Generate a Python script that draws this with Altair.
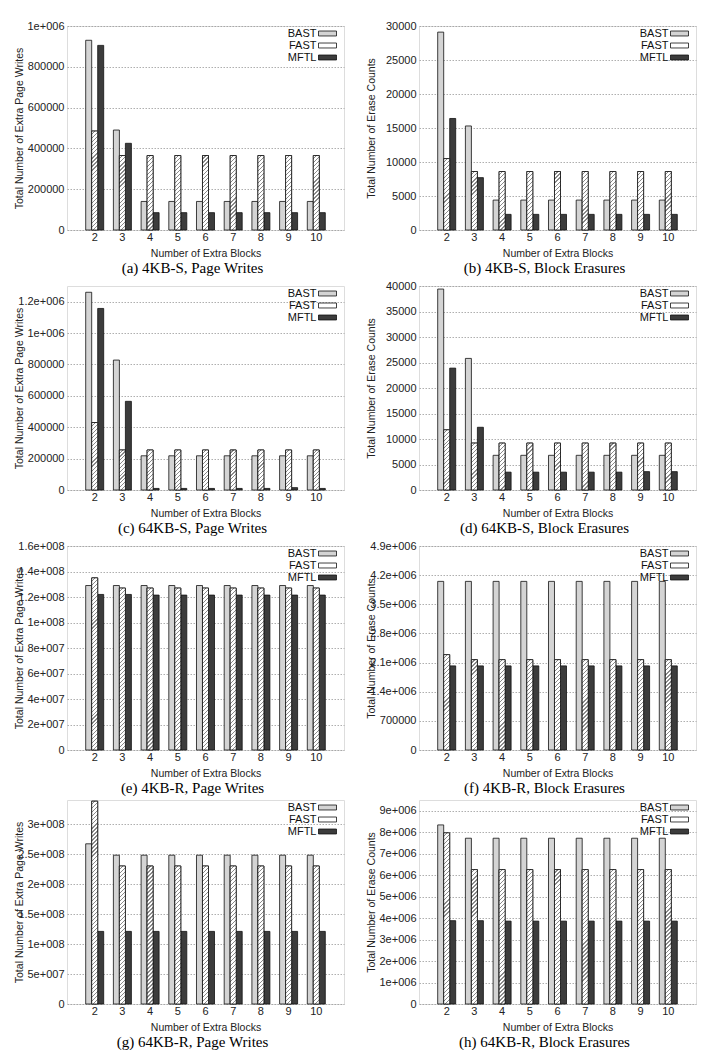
import altair as alt
import pandas as pd

blocks = [2, 3, 4, 5, 6, 7, 8, 9, 10]
series_names = ["BAST", "FAST", "MFTL"]
series_colors = ["#d4d4d4", "#ffffff", "#3c3c3c"]

# (a) 4KB-S, Page Writes
a_bast = [930000, 490000, 140000, 140000, 140000, 140000, 140000, 140000, 140000]
a_fast = [485000, 365000, 365000, 365000, 365000, 365000, 365000, 365000, 365000]
a_mftl = [905000, 425000, 85000, 85000, 85000, 85000, 85000, 85000, 85000]
a_ticks = [0, 200000, 400000, 600000, 800000, 1000000]
a_labels = ["0", "200000", "400000", "600000", "800000", "1e+006"]
a_ymax = 1000000

# (b) 4KB-S, Block Erasures
b_bast = [29100, 15300, 4400, 4400, 4400, 4400, 4400, 4400, 4400]
b_fast = [10500, 8600, 8600, 8600, 8600, 8600, 8600, 8600, 8600]
b_mftl = [16400, 7700, 2300, 2300, 2300, 2300, 2300, 2300, 2300]
b_ticks = [0, 5000, 10000, 15000, 20000, 25000, 30000]
b_labels = ["0", "5000", "10000", "15000", "20000", "25000", "30000"]
b_ymax = 30000

# (c) 64KB-S, Page Writes
c_bast = [1260000, 828000, 218000, 218000, 218000, 218000, 218000, 218000, 218000]
c_fast = [430000, 255000, 255000, 255000, 255000, 255000, 255000, 255000, 255000]
c_mftl = [1157000, 565000, 10000, 10000, 10000, 10000, 10000, 15000, 10000]
c_ticks = [0, 200000, 400000, 600000, 800000, 1000000, 1200000]
c_labels = ["0", "200000", "400000", "600000", "800000", "1e+006", "1.2e+006"]
c_ymax = 1300000

# (d) 64KB-S, Block Erasures
d_bast = [39400, 25800, 6800, 6800, 6800, 6800, 6800, 6800, 6800]
d_fast = [11800, 9200, 9200, 9200, 9200, 9200, 9200, 9200, 9200]
d_mftl = [23900, 12300, 3500, 3500, 3500, 3500, 3500, 3600, 3600]
d_ticks = [0, 5000, 10000, 15000, 20000, 25000, 30000, 35000, 40000]
d_labels = ["0", "5000", "10000", "15000", "20000", "25000", "30000", "35000", "40000"]
d_ymax = 40000

# (e) 4KB-R, Page Writes
e_bast = [129000000] * 9
e_fast = [135000000, 127000000, 127000000, 127000000, 127000000, 127000000, 127000000, 127000000, 127000000]
e_mftl = [122000000, 122000000, 121500000, 121500000, 121500000, 121500000, 121500000, 121500000, 121500000]
e_ticks = [0, 20000000, 40000000, 60000000, 80000000, 100000000, 120000000, 140000000, 160000000]
e_labels = ["0", "2e+007", "4e+007", "6e+007", "8e+007", "1e+008", "1.2e+008", "1.4e+008", "1.6e+008"]
e_ymax = 160000000

# (f) 4KB-R, Block Erasures
f_bast = [4050000] * 9
f_fast = [2290000, 2170000, 2170000, 2170000, 2170000, 2170000, 2170000, 2170000, 2170000]
f_mftl = [2020000] * 9
f_ticks = [0, 700000, 1400000, 2100000, 2800000, 3500000, 4200000, 4900000]
f_labels = ["0", "700000", "1.4e+006", "2.1e+006", "2.8e+006", "3.5e+006", "4.2e+006", "4.9e+006"]
f_ymax = 4900000

# (g) 64KB-R, Page Writes
g_bast = [267000000, 248000000, 248000000, 248000000, 248000000, 248000000, 248000000, 248000000, 248000000]
g_fast = [338000000, 230000000, 230000000, 230000000, 230000000, 230000000, 230000000, 230000000, 230000000]
g_mftl = [121000000] * 9
g_ticks = [0, 50000000, 100000000, 150000000, 200000000, 250000000, 300000000]
g_labels = ["0", "5e+007", "1e+008", "1.5e+008", "2e+008", "2.5e+008", "3e+008"]
g_ymax = 340000000

# (h) 64KB-R, Block Erasures
h_bast = [8340000, 7720000, 7720000, 7720000, 7720000, 7720000, 7720000, 7720000, 7720000]
h_fast = [7970000, 6260000, 6260000, 6260000, 6260000, 6260000, 6260000, 6260000, 6260000]
h_mftl = [3880000, 3880000, 3860000, 3860000, 3860000, 3860000, 3860000, 3860000, 3860000]
h_ticks = [0, 1000000, 2000000, 3000000, 4000000, 5000000, 6000000, 7000000, 8000000, 9000000]
h_labels = ["0", "1e+006", "2e+006", "3e+006", "4e+006", "5e+006", "6e+006", "7e+006", "8e+006", "9e+006"]
h_ymax = 9500000

title_writes = "Total Number of Extra Page Writes"
title_erase = "Total Number of Erase Counts"
x_title = "Number of Extra Blocks"

panels = [
    ("(a) 4KB-S, Page Writes", title_writes, a_bast, a_fast, a_mftl, a_ticks, a_labels, a_ymax),
    ("(b) 4KB-S, Block Erasures", title_erase, b_bast, b_fast, b_mftl, b_ticks, b_labels, b_ymax),
    ("(c) 64KB-S, Page Writes", title_writes, c_bast, c_fast, c_mftl, c_ticks, c_labels, c_ymax),
    ("(d) 64KB-S, Block Erasures", title_erase, d_bast, d_fast, d_mftl, d_ticks, d_labels, d_ymax),
    ("(e) 4KB-R, Page Writes", title_writes, e_bast, e_fast, e_mftl, e_ticks, e_labels, e_ymax),
    ("(f) 4KB-R, Block Erasures", title_erase, f_bast, f_fast, f_mftl, f_ticks, f_labels, f_ymax),
    ("(g) 64KB-R, Page Writes", title_writes, g_bast, g_fast, g_mftl, g_ticks, g_labels, g_ymax),
    ("(h) 64KB-R, Block Erasures", title_erase, h_bast, h_fast, h_mftl, h_ticks, h_labels, h_ymax),
]

PW = 277
PH = 204
PAD_INNER = 0.35
PAD_OUTER = 0.675
BAR_W = PW / (len(blocks) - PAD_INNER + 2 * PAD_OUTER) * (1 - PAD_INNER) / 3
SANS = "Liberation Sans"
SERIF = "Liberation Serif"


def hatch(w, h, period=4.0, frac=0.28, color="#8a8a8a"):
    h = max(h, 0.5)
    k = max(1, round((w + h) / period))
    dx = w * (w + h) / (w * w + h * h)
    dy = dx * h / w
    stops = []
    for i in range(k):
        a = i / k
        b = (i + 1 - frac) / k
        c = (i + 1) / k
        stops += [(a, "#ffffff"), (b, "#ffffff"), (b, color), (c, color)]
    return alt.Gradient(
        gradient="linear", x1=0, y1=0, x2=dx, y2=dy,
        stops=[alt.GradientStop(offset=o, color=col) for o, col in stops],
    )


def label_expr(ticks, labels):
    parts = [f"datum.value == {v} ? '{l}'" for v, l in zip(ticks, labels)]
    return " : ".join(parts) + " : datum.label"


def make_panel(caption, ytitle, bast, fast, mftl, ticks, labels, ymax):
    rows = []
    for name, vals in zip(series_names, [bast, fast, mftl]):
        for b, v in zip(blocks, vals):
            rows.append({"blocks": b, "series": name, "value": v})
    df = pd.DataFrame(rows)

    enc = dict(
        x=alt.X("blocks:O", title=x_title,
                scale=alt.Scale(paddingInner=PAD_INNER, paddingOuter=PAD_OUTER),
                axis=alt.Axis(labelAngle=0, ticks=False, domain=False, grid=False,
                              labelFontSize=11, labelPadding=1, labelFont=SANS,
                              labelColor="#222", titleFont=SANS, titleFontSize=10.5,
                              titleFontWeight="normal", titleColor="#222", titlePadding=6)),
        xOffset=alt.XOffset("series:N", scale=alt.Scale(domain=series_names, paddingInner=0, paddingOuter=0)),
        y=alt.Y("value:Q", title=ytitle,
                scale=alt.Scale(domain=[0, ymax], nice=False, zero=True),
                axis=alt.Axis(values=ticks, labelExpr=label_expr(ticks, labels),
                              ticks=False, domain=False, grid=True,
                              gridColor="#9a9a9a", gridDash=[1.5, 1.5], gridWidth=0.8,
                              labelFontSize=11, labelFont=SANS, labelColor="#222",
                              labelPadding=3, minExtent=40, maxExtent=40,
                              titleFont=SANS, titleFontSize=10.5, titleFontWeight="normal",
                              titleColor="#222", titlePadding=3)),
    )

    base = alt.Chart(df).mark_bar(stroke="#111", strokeWidth=0.8).encode(
        color=alt.Color("series:N",
                        scale=alt.Scale(domain=series_names, range=series_colors),
                        legend=alt.Legend(title=None, orient="none",
                                          legendX=PW - 22, legendY=2, padding=0,
                                          symbolType="M-2,-0.55H2V0.55H-2Z", symbolSize=81,
                                          symbolStrokeColor="#111", symbolStrokeWidth=0.8,
                                          labelFont=SANS, labelFontSize=11, labelColor="#111",
                                          labelAlign="right", labelOffset={"expr": "-16.5"},
                                          rowPadding=0)),
        **enc,
    )

    layers = [base]
    for b, v in zip(blocks, fast):
        h = v / ymax * PH
        layers.append(
            alt.Chart(df).transform_filter(
                f"datum.series == 'FAST' && datum.blocks == {b}"
            ).mark_bar(fill=hatch(BAR_W, h), stroke="#111", strokeWidth=0.8).encode(**enc)
        )

    return alt.layer(*layers).properties(
        width=PW, height=PH,
        title=alt.TitleParams(caption, orient="bottom", font=SERIF, fontSize=15,
                              fontWeight="normal", color="#000", offset=2, dx=-13),
    )


charts = [make_panel(*p) for p in panels]

chart = alt.concat(*charts, columns=2, spacing={"column": 20, "row": 3}).resolve_scale(
    color="independent"
).resolve_legend(color="independent").properties(
    padding={"left": 13, "top": 19, "right": 0, "bottom": 0}
).configure_view(stroke="#888", strokeWidth=1).configure(background="white")

chart.save("out.html", embed_options={"renderer": "svg", "actions": False})
